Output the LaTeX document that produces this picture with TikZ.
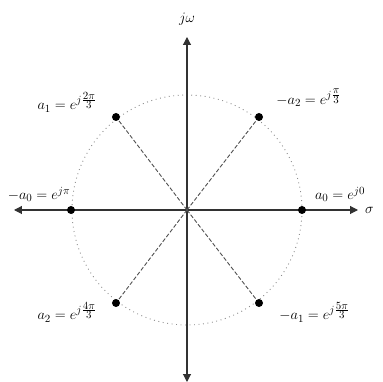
\documentclass[tikz,border=0pt]{standalone}
\usepackage{amsmath,amssymb}
\usepackage{tikz}
\usetikzlibrary{arrows.meta,positioning}
\definecolor{AxisGray}{RGB}{50,50,50}
\definecolor{SpokeGray}{RGB}{80,80,80}
\definecolor{RingGray}{RGB}{140,140,140}
\newcommand{\supfrac}[2]{\frac{\scriptstyle #1}{\scriptstyle #2}}

\begin{document}
\begin{tikzpicture}[
  x=1pt, y=1pt,
  axis/.style={{Triangle[length=8pt,width=8pt]}-{Triangle[length=8pt,width=8pt]},
               line width=1.1pt, color=AxisGray},
  spoke/.style={dash pattern=on 4pt off 2pt, line width=0.9pt, color=SpokeGray},
  ring/.style={dash pattern=on 0.9pt off 3.6pt, line width=0.9pt, color=RingGray},
  root/.style={circle, fill=black, inner sep=0pt, minimum size=8pt},
  lbl/.style={inner sep=0pt, font=\fontsize{15}{18}\selectfont}
]
  \useasboundingbox (-187,-172) rectangle (195,210);

  % axes
  \coordinate (o) at (0,0);
  \coordinate (xl) at (-173,0);
  \coordinate (xr) at (171,0);
  \coordinate (yb) at (0,-172);
  \coordinate (yt) at (0,173);
  \draw[ring] (o) circle (115pt);
  \draw[axis] (xl) -- (xr);
  \draw[axis] (yb) -- (yt);
  \node[lbl, right=7pt of xr] (sig) {$\sigma$};
  \node[lbl, above=11pt of yt] (jw) {$j\omega$};

  % roots
  \node[root] (a0) at (115,0) {};
  \node[root] (na2) at (72,93) {};
  \node[root] (a1) at (-71,93) {};
  \node[root] (na0) at (-116,0) {};
  \node[root] (a2) at (-71,-93) {};
  \node[root] (na1) at (72,-93) {};

  \draw[spoke] (o) -- (a1); \draw[spoke] (o) -- (na2);
  \draw[spoke] (o) -- (a2); \draw[spoke] (o) -- (na1);

  % labels
  \node[lbl, above=4pt of a0, xshift=38pt] (la0) {$a_0 = e^{j0}$};
  \node[lbl, right=13pt of na2, yshift=19pt] (lna2) {$-a_2 = e^{j\supfrac{\pi}{3}}$};
  \node[lbl, left=15pt of a1, yshift=15pt] (la1) {$a_1 = e^{j\supfrac{2\pi}{3}}$};
  \node[lbl, above=4pt of na0, xshift=-32pt] (lna0) {$-a_0 = e^{j\pi}$};
  \node[lbl, left=15pt of a2, yshift=-9pt] (la2) {$a_2 = e^{j\supfrac{4\pi}{3}}$};
  \node[lbl, right=16pt of na1, yshift=-9pt] (lna1) {$-a_1 = e^{j\supfrac{5\pi}{3}}$};
\end{tikzpicture}
\end{document}
